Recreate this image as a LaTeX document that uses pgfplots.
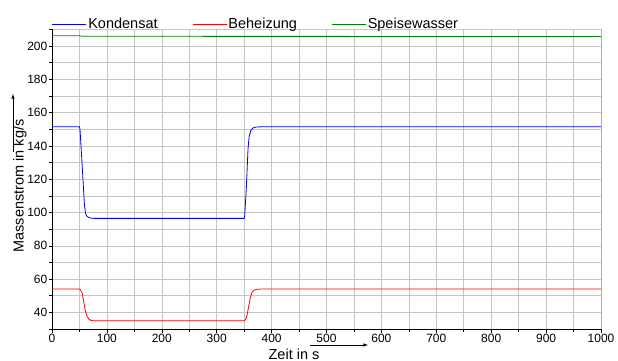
\documentclass[border=0pt]{standalone}
\usepackage{pgfplots}
\pgfplotsset{compat=1.18}
\usepackage{fontspec}
\setmainfont{Liberation Sans}
\begin{document}
\begin{tikzpicture}[x=1pt,y=1pt]
\path[use as bounding box] (-52,-32) rectangle (566,329);
\begin{axis}[
  at={(0,0)}, anchor=south west,
  scale only axis, width=549pt, height=299.5pt,
  xmin=0, xmax=1000, ymin=30, ymax=210,
  xtick={0,100,...,1000}, minor xtick={50,150,...,950},
  ytick={40,60,...,200}, minor ytick={30,50,...,210},
  grid=both,
  major grid style={gray!45, line width=0.6pt},
  minor grid style={gray!45, line width=0.6pt},
  axis line style={line width=0.9pt, black},
  tick style={black, line width=0.6pt},
  major tick length=3.5pt, minor tick length=3pt,
  tick align=outside,
  xtick pos=bottom, ytick pos=left,
  axis y line*=left, axis x line*=bottom,
  every axis plot/.append style={line width=0.8pt},
  ticklabel style={font=\fontsize{12}{14}\selectfont, inner sep=1pt},
  /pgf/number format/assume math mode=true,
  /pgf/number format/1000 sep={},
  legend style={at={(0,1)}, anchor=south west, yshift=-2pt, draw=none, fill=none,
    legend columns=3, font=\fontsize{14.5}{16}\selectfont,
    /tikz/every even column/.append style={column sep=33pt},
    inner sep=0pt, outer sep=0pt, row sep=0pt,
    nodes={inner sep=1.5pt}},
  legend image code/.code={\draw[#1, line width=0.8pt] (0pt,0pt) -- (34pt,0pt);},
]
\addplot[blue] coordinates {(0,151.5) (50,151.5) (51,150) (55,128) (59,105) (61,99.5) (63,98) (66,97.2) (70,96.7) (76,96.5) (350,96.5) (351,98) (354,115) (357,138) (359,145.5) (362,149.3) (366,150.8) (372,151.4) (380,151.5) (1000,151.5)};
\addlegendentry{Kondensat}
\addplot[red] coordinates {(0,54) (50,54) (52,53.6) (55,51.5) (58,46) (61,40.5) (64,37.5) (67,36) (71,35.2) (76,34.9) (350,34.9) (352,35.5) (355,38) (358,43) (361,48.5) (364,51.8) (367,53.2) (372,53.8) (380,54) (1000,54)};
\addlegendentry{Beheizung}
\addplot[green!50!black] coordinates {(0,206.2) (50,206.2) (55,206.0) (110,205.9) (1000,205.8)};
\addlegendentry{Speisewasser}
\draw (rel axis cs:1,0) -- (rel axis cs:1,1);
\end{axis}
\node[rotate=90, font=\fontsize{14.5}{17}\selectfont] at (-32,143) {Massenstrom in kg/s};
\draw[-latex, line width=0.6pt] (-39,177) -- (-39,235);
\node[font=\fontsize{14.5}{17}\selectfont] at (242,-25) {Zeit in s};
\draw[-latex, line width=0.6pt] (258,-16) -- (316,-16);
\end{tikzpicture}
\end{document}
